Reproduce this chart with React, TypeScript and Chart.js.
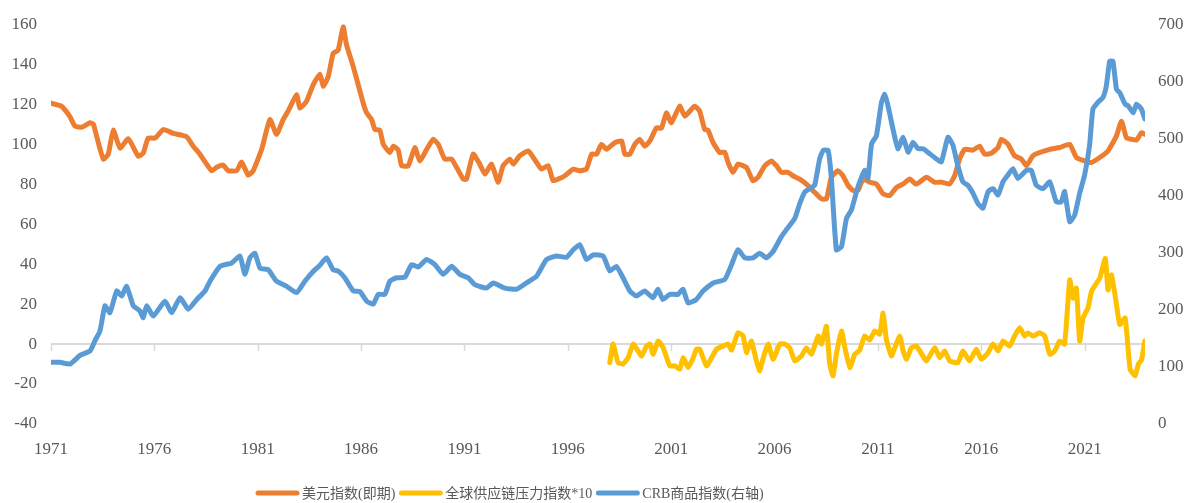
import React, { useEffect, useRef } from "react";
import { Chart, registerables } from "chart.js";

Chart.register(...registerables);

const xTickYears = [1971, 1976, 1981, 1986, 1991, 1996, 2001, 2006, 2011, 2016, 2021];
const seriesLabels = ["美元指数(即期)", "全球供应链压力指数*10", "CRB商品指数(右轴)"];
const seriesColors = ["#ED7D31", "#FFC000", "#5B9BD5"];

const usdYears = [1971.0, 1971.5, 1971.9, 1972.16, 1972.5, 1972.89, 1973.05, 1973.29, 1973.53, 1973.77, 1974.01, 1974.34, 1974.74, 1975.22, 1975.46, 1975.7, 1976.03, 1976.43, 1976.91, 1977.56, 1977.88, 1978.2, 1978.77, 1979.01, 1979.33, 1979.57, 1979.98, 1980.22, 1980.54, 1980.78, 1981.19, 1981.59, 1981.91, 1982.23, 1982.47, 1982.88, 1983.04, 1983.36, 1983.68, 1984.01, 1984.17, 1984.41, 1984.65, 1984.89, 1985.13, 1985.3, 1985.62, 1985.86, 1986.1, 1986.27, 1986.51, 1986.67, 1986.91, 1987.07, 1987.39, 1987.56, 1987.8, 1987.96, 1988.28, 1988.6, 1988.84, 1989.17, 1989.49, 1989.73, 1990.05, 1990.38, 1990.94, 1991.1, 1991.42, 1991.74, 1991.99, 1992.31, 1992.63, 1992.87, 1993.2, 1993.36, 1993.68, 1994.08, 1994.49, 1994.73, 1995.05, 1995.29, 1995.53, 1995.86, 1996.26, 1996.58, 1996.9, 1997.15, 1997.39, 1997.63, 1997.87, 1998.27, 1998.6, 1998.76, 1999.0, 1999.24, 1999.48, 1999.72, 1999.97, 2000.29, 2000.53, 2000.77, 2001.01, 2001.41, 2001.66, 2002.14, 2002.38, 2002.62, 2002.78, 2003.03, 2003.35, 2003.59, 2003.75, 2003.99, 2004.23, 2004.64, 2004.96, 2005.2, 2005.53, 2005.85, 2006.09, 2006.33, 2006.65, 2006.89, 2007.22, 2007.62, 2007.94, 2008.27, 2008.51, 2008.75, 2009.07, 2009.31, 2009.56, 2009.8, 2010.04, 2010.28, 2010.6, 2010.93, 2011.25, 2011.57, 2011.9, 2012.22, 2012.54, 2012.86, 2013.35, 2013.75, 2014.07, 2014.47, 2014.71, 2014.95, 2015.2, 2015.6, 2015.92, 2016.16, 2016.49, 2016.81, 2016.97, 2017.29, 2017.61, 2017.94, 2018.18, 2018.5, 2018.82, 2019.31, 2019.79, 2020.28, 2020.6, 2021.0, 2021.33, 2021.73, 2022.13, 2022.54, 2022.78, 2023.02, 2023.27, 2023.51, 2023.75, 2023.91];
const usdValues = [120.5, 119, 114, 109, 108.5, 110.7, 110, 100.7, 92.5, 95, 107, 98, 102.7, 94, 95.5, 103, 103, 107.3, 105.4, 103.7, 99, 95, 86.7, 88.4, 89.5, 86.7, 86.7, 91, 84.5, 86.7, 97.4, 112.3, 104.9, 112.3, 116.5, 124.7, 118, 121.4, 129.7, 135, 128.9, 133.8, 145.4, 147, 158.7, 149.5, 138.8, 129.7, 120.6, 115.6, 112.3, 107.3, 107, 100, 95.8, 99, 97, 89.2, 89.2, 98.3, 91.6, 97.4, 102.4, 99.9, 92.5, 92.5, 82.5, 82.5, 95, 90, 85, 90, 80.9, 89.2, 92.5, 90, 94.2, 96.6, 90.8, 87.5, 89.2, 81.7, 82.5, 84.2, 87.5, 86.7, 87.5, 95, 95, 99.9, 97.4, 100.7, 101.6, 95, 95, 99.9, 102.4, 99, 101.6, 108.2, 108, 115.6, 110.7, 119, 114, 119, 116.5, 107.3, 107, 100.7, 95.8, 96, 90.8, 85.9, 90, 88.3, 81.7, 83.4, 89.2, 91.6, 89.2, 85.9, 85.9, 84.2, 82.5, 79.3, 75.9, 72.6, 72.6, 83.4, 86.7, 84.2, 79.3, 76.8, 77, 82.5, 81, 80, 75.1, 74.3, 78.4, 80.1, 82.5, 80, 83.4, 80.9, 81, 80.1, 84.2, 92.5, 97.4, 97, 99, 95, 95.5, 98.3, 102.4, 100, 94.2, 92.5, 89.2, 94.2, 95.8, 97.4, 98.3, 99.9, 93.3, 91.6, 90.8, 93.3, 96.6, 104.1, 111.5, 103.2, 102.4, 102, 105.7, 104.9];

const gscpiYears = [1998.03, 1998.19, 1998.43, 1998.67, 1998.92, 1999.16, 1999.4, 1999.57, 1999.81, 1999.97, 2000.13, 2000.37, 2000.61, 2000.93, 2001.17, 2001.41, 2001.58, 2001.82, 2002.06, 2002.22, 2002.38, 2002.71, 2002.95, 2003.19, 2003.51, 2003.75, 2003.92, 2004.23, 2004.48, 2004.64, 2004.88, 2005.12, 2005.29, 2005.45, 2005.69, 2005.93, 2006.26, 2006.5, 2006.74, 2006.98, 2007.3, 2007.54, 2007.79, 2008.11, 2008.27, 2008.51, 2008.67, 2008.83, 2008.99, 2009.24, 2009.4, 2009.64, 2009.88, 2010.12, 2010.36, 2010.6, 2010.84, 2011.09, 2011.25, 2011.41, 2011.65, 2011.81, 2012.06, 2012.22, 2012.38, 2012.62, 2012.86, 2013.03, 2013.35, 2013.75, 2013.99, 2014.23, 2014.47, 2014.87, 2015.11, 2015.43, 2015.76, 2016.0, 2016.32, 2016.57, 2016.81, 2017.05, 2017.37, 2017.61, 2017.86, 2018.1, 2018.26, 2018.5, 2018.82, 2019.07, 2019.31, 2019.55, 2019.79, 2020.03, 2020.28, 2020.44, 2020.6, 2020.76, 2020.92, 2021.16, 2021.33, 2021.57, 2021.73, 2022.0, 2022.13, 2022.3, 2022.54, 2022.7, 2022.96, 2023.2, 2023.44, 2023.6, 2023.75, 2023.91];
const gscpiValues = [-9.3, 0, -9.3, -10, -6.8, 0, -3.5, -6, -1, 0, -5.1, 1.5, -1.8, -10.9, -10.9, -12.6, -6.8, -11.8, -7, -2.6, -2.6, -10.9, -7, -2.6, -1, 0, -3, 5.6, 4, -4.3, 1.5, -8.4, -13.4, -7, 0, -7.6, 0, 0, -2, -8.4, -6, -2, -5, 4, 0, 8.9, -10, -15.9, -5.1, 6.5, -1.8, -11.8, -5.1, -3, 4, 2, 6.5, 5, 15.5, 2.3, -6, -2, 4, -3.5, -7.6, -1.8, -1, -3.5, -8.4, -1.8, -6.8, -3.5, -8.4, -9.3, -3.5, -8.4, -2.6, -7.6, -4.5, 0, -3.5, 1.5, -1, 4, 8.1, 4, 5.5, 4, 5.6, 4, -5.1, -3.5, 1.5, 0, 32.1, 23, 28, 1.5, 13, 18, 26.3, 30.4, 32.9, 42.8, 27.1, 34.6, 19.7, 9.8, 13, -12.6, -15.9, -10, -8, 1.5];

const crbYears = [1971.0, 1971.44, 1971.92, 1972.4, 1972.89, 1973.13, 1973.37, 1973.61, 1973.85, 1974.18, 1974.42, 1974.66, 1974.98, 1975.3, 1975.46, 1975.63, 1975.95, 1976.51, 1976.84, 1977.24, 1977.64, 1978.05, 1978.45, 1978.69, 1979.17, 1979.74, 1980.14, 1980.38, 1980.62, 1980.86, 1981.11, 1981.51, 1981.91, 1982.4, 1982.88, 1983.28, 1983.68, 1984.01, 1984.33, 1984.65, 1984.89, 1985.21, 1985.62, 1985.94, 1986.27, 1986.59, 1986.83, 1987.15, 1987.39, 1987.72, 1988.12, 1988.44, 1988.76, 1989.17, 1989.57, 1989.97, 1990.38, 1990.78, 1991.18, 1991.5, 1992.07, 1992.39, 1992.95, 1993.52, 1994.0, 1994.49, 1994.97, 1995.45, 1995.94, 1996.26, 1996.58, 1996.9, 1997.22, 1997.71, 1998.03, 1998.35, 1998.67, 1999.0, 1999.32, 1999.72, 2000.12, 2000.36, 2000.6, 2000.93, 2001.33, 2001.57, 2001.82, 2002.22, 2002.54, 2003.03, 2003.59, 2003.92, 2004.23, 2004.56, 2004.96, 2005.28, 2005.61, 2005.93, 2006.33, 2006.57, 2006.98, 2007.22, 2007.46, 2007.71, 2007.94, 2008.18, 2008.35, 2008.59, 2008.75, 2008.99, 2009.24, 2009.48, 2009.72, 2009.96, 2010.12, 2010.36, 2010.52, 2010.69, 2010.93, 2011.17, 2011.33, 2011.49, 2011.73, 2011.97, 2012.22, 2012.46, 2012.7, 2012.94, 2013.19, 2013.51, 2013.83, 2014.07, 2014.39, 2014.63, 2014.86, 2015.11, 2015.35, 2015.6, 2015.84, 2016.08, 2016.33, 2016.57, 2016.81, 2017.05, 2017.29, 2017.53, 2017.77, 2018.18, 2018.42, 2018.66, 2018.98, 2019.31, 2019.63, 2019.87, 2020.03, 2020.28, 2020.52, 2020.76, 2021.0, 2021.24, 2021.4, 2021.64, 2021.89, 2022.05, 2022.21, 2022.37, 2022.54, 2022.7, 2022.96, 2023.11, 2023.35, 2023.51, 2023.75, 2023.91];
const crbValues = [108, 108, 105, 120, 128, 146, 163, 207, 195, 233, 224, 241, 207, 198, 186, 207, 189, 215, 195, 221, 201, 218, 233, 250, 276, 282, 294, 262, 291, 299, 273, 270, 250, 241, 230, 250, 267, 278, 291, 270, 268, 256, 233, 232, 215, 210, 227, 227, 250, 256, 257, 279, 275, 288, 279, 262, 276, 262, 256, 244, 238, 247, 238, 236, 247, 259, 288, 294, 292, 305, 314, 288, 296, 294, 268, 276, 256, 233, 224, 233, 221, 236, 218, 227, 227, 236, 212, 218, 233, 247, 253, 279, 305, 291, 291, 299, 291, 302, 328, 340, 360, 386, 406, 412, 418, 464, 479, 479, 430, 305, 311, 360, 375, 406, 424, 444, 430, 490, 505, 563, 577, 557, 516, 482, 502, 476, 493, 482, 482, 473, 464, 459, 502, 488, 453, 424, 418, 404, 386, 378, 407, 412, 401, 424, 436, 447, 430, 444, 444, 418, 412, 424, 389, 389, 407, 354, 366, 404, 436, 488, 551, 563, 572, 592, 635, 635, 586, 580, 560, 557, 545, 560, 551, 534];

const toPoints = (xs: number[], ys: number[]) => xs.map((x, i) => ({ x, y: ys[i] }));

const TICK_FONT = { family: "'Liberation Serif', 'DejaVu Serif', serif", size: 17 };
const TICK_COLOR = "#595959";

const zeroTicksPlugin = {
  id: "zeroTicks",
  beforeDatasetsDraw(chart: any) {
    const { ctx } = chart;
    const xs = chart.scales.x;
    const ys = chart.scales.y;
    const y0 = ys.getPixelForValue(0);
    ctx.save();
    ctx.strokeStyle = "#D9D9D9";
    ctx.lineWidth = 1.5;
    ctx.beginPath();
    xTickYears.forEach((v) => {
      const px = Math.round(xs.getPixelForValue(v)) + 0.5;
      ctx.moveTo(px, y0);
      ctx.lineTo(px, y0 + 7);
    });
    ctx.stroke();
    ctx.restore();
  },
};

const legendPlugin = {
  id: "customLegend",
  afterDraw(chart: any) {
    const { ctx } = chart;
    ctx.save();
    ctx.font = "14px 'Liberation Serif', 'Noto Sans CJK SC', serif";
    ctx.textBaseline = "middle";
    ctx.textAlign = "left";
    let x = 256;
    const y = 493;
    chart.data.datasets.forEach((ds: any) => {
      ctx.strokeStyle = ds.borderColor;
      ctx.lineWidth = 5;
      ctx.lineCap = "round";
      ctx.beginPath();
      ctx.moveTo(x + 2, y);
      ctx.lineTo(x + 41, y);
      ctx.stroke();
      x += 46;
      ctx.fillStyle = TICK_COLOR;
      ctx.fillText(ds.label, x, y + 1);
      x += ctx.measureText(ds.label).width + 4;
    });
    ctx.restore();
  },
};

export default function App() {
  const canvasRef = useRef<HTMLCanvasElement | null>(null);

  useEffect(() => {
    document.body.style.margin = "0";
    const canvas = canvasRef.current;
    if (!canvas) return;
    const lineStyle = {
      borderWidth: 5,
      pointRadius: 0,
      pointHoverRadius: 0,
      tension: 0.15,
      borderJoinStyle: "round" as const,
      borderCapStyle: "round" as const,
      fill: false,
    };
    const chart = new Chart(canvas, {
      type: "line",
      data: {
        datasets: [
          {
            ...lineStyle,
            label: seriesLabels[0],
            data: toPoints(usdYears, usdValues),
            borderColor: seriesColors[0],
            backgroundColor: seriesColors[0],
            yAxisID: "y",
            order: 2,
          },
          {
            ...lineStyle,
            label: seriesLabels[1],
            data: toPoints(gscpiYears, gscpiValues),
            borderColor: seriesColors[1],
            backgroundColor: seriesColors[1],
            yAxisID: "y",
            order: 1,
          },
          {
            ...lineStyle,
            label: seriesLabels[2],
            data: toPoints(crbYears, crbValues),
            borderColor: seriesColors[2],
            backgroundColor: seriesColors[2],
            yAxisID: "y1",
            order: 0,
          },
        ],
      },
      options: {
        responsive: false,
        animation: false,
        layout: { padding: { top: 21, left: 0, right: 0, bottom: 0 } },
        plugins: {
          legend: { display: false },
          tooltip: { enabled: false },
        },
        scales: {
          x: {
            type: "linear",
            min: 1971,
            max: 2023.92,
            afterBuildTicks: (s: any) => {
              s.ticks = xTickYears.map((v) => ({ value: v }));
            },
            afterFit: (s: any) => {
              s.height = 79;
            },
            grid: { display: false, drawTicks: false },
            border: { display: false },
            ticks: {
              font: TICK_FONT,
              color: TICK_COLOR,
              padding: 15,
              maxRotation: 0,
              autoSkip: false,
              callback: (v: any) => String(v),
            },
          },
          y: {
            position: "left",
            min: -40,
            max: 160,
            afterFit: (s: any) => {
              s.width = 51;
            },
            grid: {
              drawTicks: false,
              lineWidth: 2,
              color: (c: any) => (c.tick && c.tick.value === 0 ? "#D9D9D9" : "rgba(0,0,0,0)"),
            },
            border: { display: false },
            ticks: { stepSize: 20, font: TICK_FONT, color: TICK_COLOR, padding: 14 },
          },
          y1: {
            position: "right",
            min: 0,
            max: 700,
            afterFit: (s: any) => {
              s.width = 42;
            },
            grid: { display: false, drawTicks: false },
            border: { display: false },
            ticks: { stepSize: 100, font: TICK_FONT, color: TICK_COLOR, padding: 13 },
          },
        },
      },
      plugins: [zeroTicksPlugin, legendPlugin],
    });
    return () => chart.destroy();
  }, []);

  return (
    <div style={{ width: 1187, height: 503 }}>
      <canvas ref={canvasRef} width={1187} height={503} style={{ display: "block" }} />
    </div>
  );
}
